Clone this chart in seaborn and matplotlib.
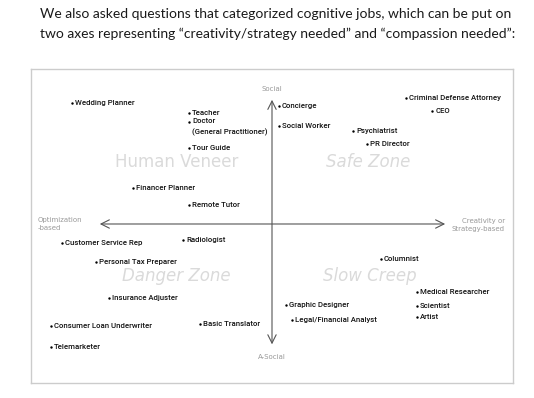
import matplotlib
matplotlib.use("Agg")
import matplotlib.pyplot as plt
import seaborn as sns
import pandas as pd

# ---- data (creativity/strategy score, compassion/social score) ----
jobs = ["Wedding Planner", "Teacher", "Doctor\n(General Practitioner)", "Tour Guide",
        "Financer Planner", "Remote Tutor", "Concierge", "Social Worker", "Psychiatrist",
        "PR Director", "Criminal Defense Attorney", "CEO", "Customer Service Rep",
        "Radiologist", "Personal Tax Preparer", "Insurance Adjuster",
        "Consumer Loan Underwriter", "Basic Translator", "Telemarketer", "Columnist",
        "Medical Researcher", "Scientist", "Artist", "Graphic Designer",
        "Legal/Financial Analyst"]
creativity = [-8.33, -3.46, -3.46, -3.46, -5.79, -3.46, 0.29, 0.29, 3.38, 3.96, 5.58, 6.67,
              -8.75, -3.71, -7.33, -6.79, -9.21, -3.0, -9.21, 4.54, 6.04, 6.04, 6.04,
              0.58, 0.83]
social = [5.04, 4.63, 4.25, 3.17, 1.5, 0.79, 4.92, 4.08, 3.88, 3.33, 5.25, 4.71,
          -0.79, -0.67, -1.58, -3.08, -4.25, -4.17, -5.13, -1.46, -2.83, -3.42, -3.88,
          -3.38, -4.0]
zones = ["Human Veneer", "Safe Zone", "Danger Zone", "Slow Creep"]
zone_x = [-3.96, 4.0, -4.0, 4.08]
zone_y = [2.58, 2.58, -2.17, -2.17]
axis_labels = ["Social", "A-Social", "Optimization\n-based", "Creativity or\nStrategy-based"]
title = ("We also asked questions that categorized cognitive jobs, which can be put on\n"
         "two axes representing \u201ccreativity/strategy needed\u201d and \u201ccompassion needed\u201d:")

df = pd.DataFrame({"job": jobs, "creativity": creativity, "social": social})

sns.set_theme(style="white")
plt.rcParams["font.family"] = ["DejaVu Sans"]

fig = plt.figure(figsize=(5.34, 3.98), dpi=100)
ax = fig.add_axes([31 / 534, 1 - 383 / 398, 482 / 534, 314 / 398])

sns.scatterplot(data=df, x="creativity", y="social", ax=ax, color="black",
                s=3, linewidth=0, legend=False, zorder=3)

label_font = dict(family=["Roboto", "DejaVu Sans"], weight="medium",
                  fontsize=5.6, color="#111111")
for j, x, y in zip(jobs, creativity, social):
    if "\n" in j:
        ax.annotate(j, (x, y), xytext=(2.2, 2.9), textcoords="offset points",
                    ha="left", va="top", linespacing=1.75, **label_font)
    else:
        ax.annotate(j, (x, y), xytext=(2.2, 0), textcoords="offset points",
                    ha="left", va="center", **label_font)

for z, x, y in zip(zones, zone_x, zone_y):
    ax.text(x, y, z, ha="center", va="center", fontsize=12.0, color="#dadada",
            style="italic" if z != "Human Veneer" else "normal", zorder=1)

# axes arrows
arrow_kw = dict(arrowstyle="<->,head_length=0.5,head_width=0.25", color="#555555", lw=0.8)
ax.annotate("", xy=(0, 5.29), xytext=(0, -5.13), arrowprops=arrow_kw)
ax.annotate("", xy=(-7.29, 0), xytext=(7.33, 0), arrowprops=arrow_kw)

ax.text(0, 5.63, axis_labels[0], ha="center", va="center", fontsize=5, color="#999999")
ax.text(0, -5.55, axis_labels[1], ha="center", va="center", fontsize=5, color="#999999")
ax.text(-9.75, 0.0, axis_labels[2], ha="left", va="center", fontsize=5, color="#999999",
        linespacing=1.3)
ax.text(9.7, -0.05, axis_labels[3], ha="right", va="center", fontsize=5, color="#999999",
        linespacing=1.3, multialignment="right")

ax.set_xlim(-10.04, 10.04)
ax.set_ylim(-6.625, 6.458)
ax.set_xticks([])
ax.set_yticks([])
ax.set_xlabel("")
ax.set_ylabel("")
for sp in ax.spines.values():
    sp.set_visible(True)
    sp.set_color("#cccccc")
    sp.set_linewidth(1.0)

fig.text(40 / 534, 1 - 8 / 398, title, ha="left", va="top", fontsize=10.0,
         family=["Lato", "DejaVu Sans"], color="#1a1a1a", linespacing=1.72)

fig.savefig("out.png", dpi=100)
